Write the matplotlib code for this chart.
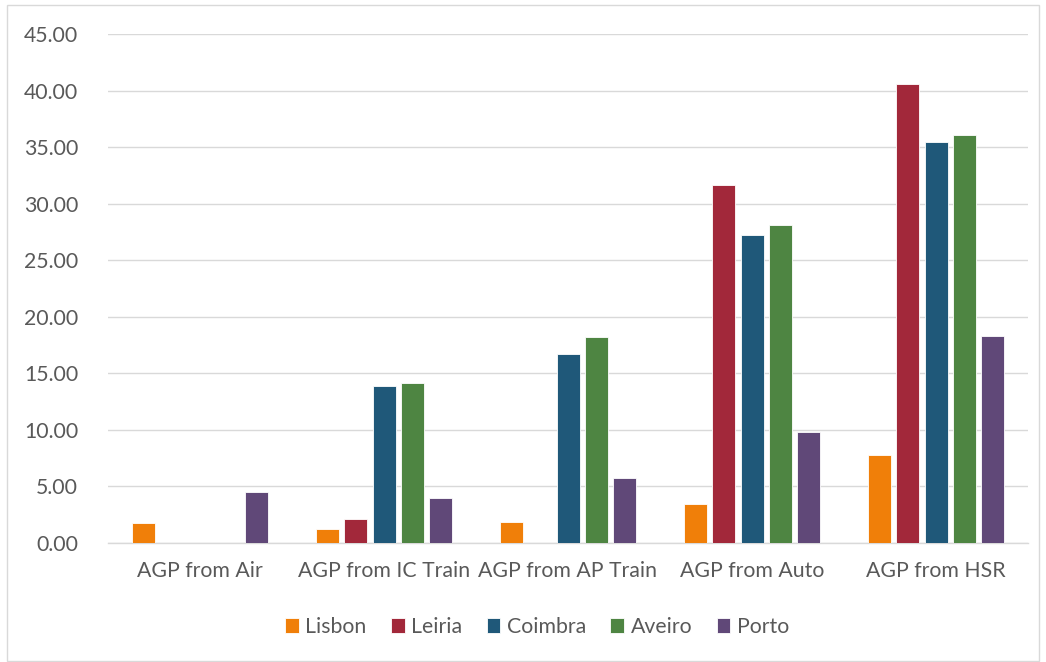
import matplotlib
matplotlib.use("Agg")
import matplotlib.pyplot as plt
import numpy as np
from matplotlib.patches import Rectangle

categories = ["AGP from Air", "AGP from IC Train", "AGP from AP Train", "AGP from Auto", "AGP from HSR"]
series_names = ["Lisbon", "Leiria", "Coimbra", "Aveiro", "Porto"]
lisbon = [1.80, 1.20, 1.88, 3.45, 7.80]
leiria = [0.0, 2.15, 0.0, 31.65, 40.56]
coimbra = [0.0, 13.85, 16.70, 27.25, 35.49]
aveiro = [0.0, 14.12, 18.25, 28.10, 36.10]
porto = [4.51, 3.98, 5.72, 9.80, 18.30]
colors = ["#F07F09", "#A2283A", "#1F5879", "#4E8542", "#604878"]
yticks = [0, 5, 10, 15, 20, 25, 30, 35, 40, 45]

plt.rcParams['font.family'] = ['Lato', 'DejaVu Sans']
fig = plt.figure(figsize=(10.46, 6.62), dpi=100)
ax = fig.add_axes([108/1046, 1-543/662, 920/1046, (543-34)/662])

x = np.arange(len(categories))
step = 0.1535
width = 0.125
for i, (name, vals) in enumerate(zip(series_names, [lisbon, leiria, coimbra, aveiro, porto])):
    ax.bar(x + (i - 2) * step, vals, width, color=colors[i], label=name,
           edgecolor="white", linewidth=0.6, zorder=3)

ax.set_xlim(-0.5, 4.5)
ax.set_ylim(0, 45)
ax.set_yticks(yticks)
ax.set_yticklabels([f"{v:.2f}" for v in yticks])
ax.set_xticks(x)
ax.set_xticklabels(categories)
ax.grid(axis="y", color="#D9D9D9", linewidth=1, zorder=0)
for s in ["top", "right", "left"]:
    ax.spines[s].set_visible(False)
ax.spines["bottom"].set_color("#D9D9D9")
ax.spines["bottom"].set_linewidth(1)
ax.tick_params(axis="both", length=0, colors="#595959", labelsize=15.3)
ax.tick_params(axis="y", pad=21.5)
ax.tick_params(axis="x", pad=13)

leg = fig.legend(loc="center", bbox_to_anchor=(537/1046, 1-627/662), ncol=5, frameon=False,
                 fontsize=15.3, handlelength=0.65, handleheight=0.65, handletextpad=0.3,
                 columnspacing=1.15)
for t in leg.get_texts():
    t.set_color("#595959")

fig.patches.append(Rectangle((7/1046, 1-661/662), 1032/1046, 656/662, transform=fig.transFigure,
                             fill=False, edgecolor="#D9D9D9", linewidth=1))
fig.savefig("out.png", dpi=100, facecolor="white")
